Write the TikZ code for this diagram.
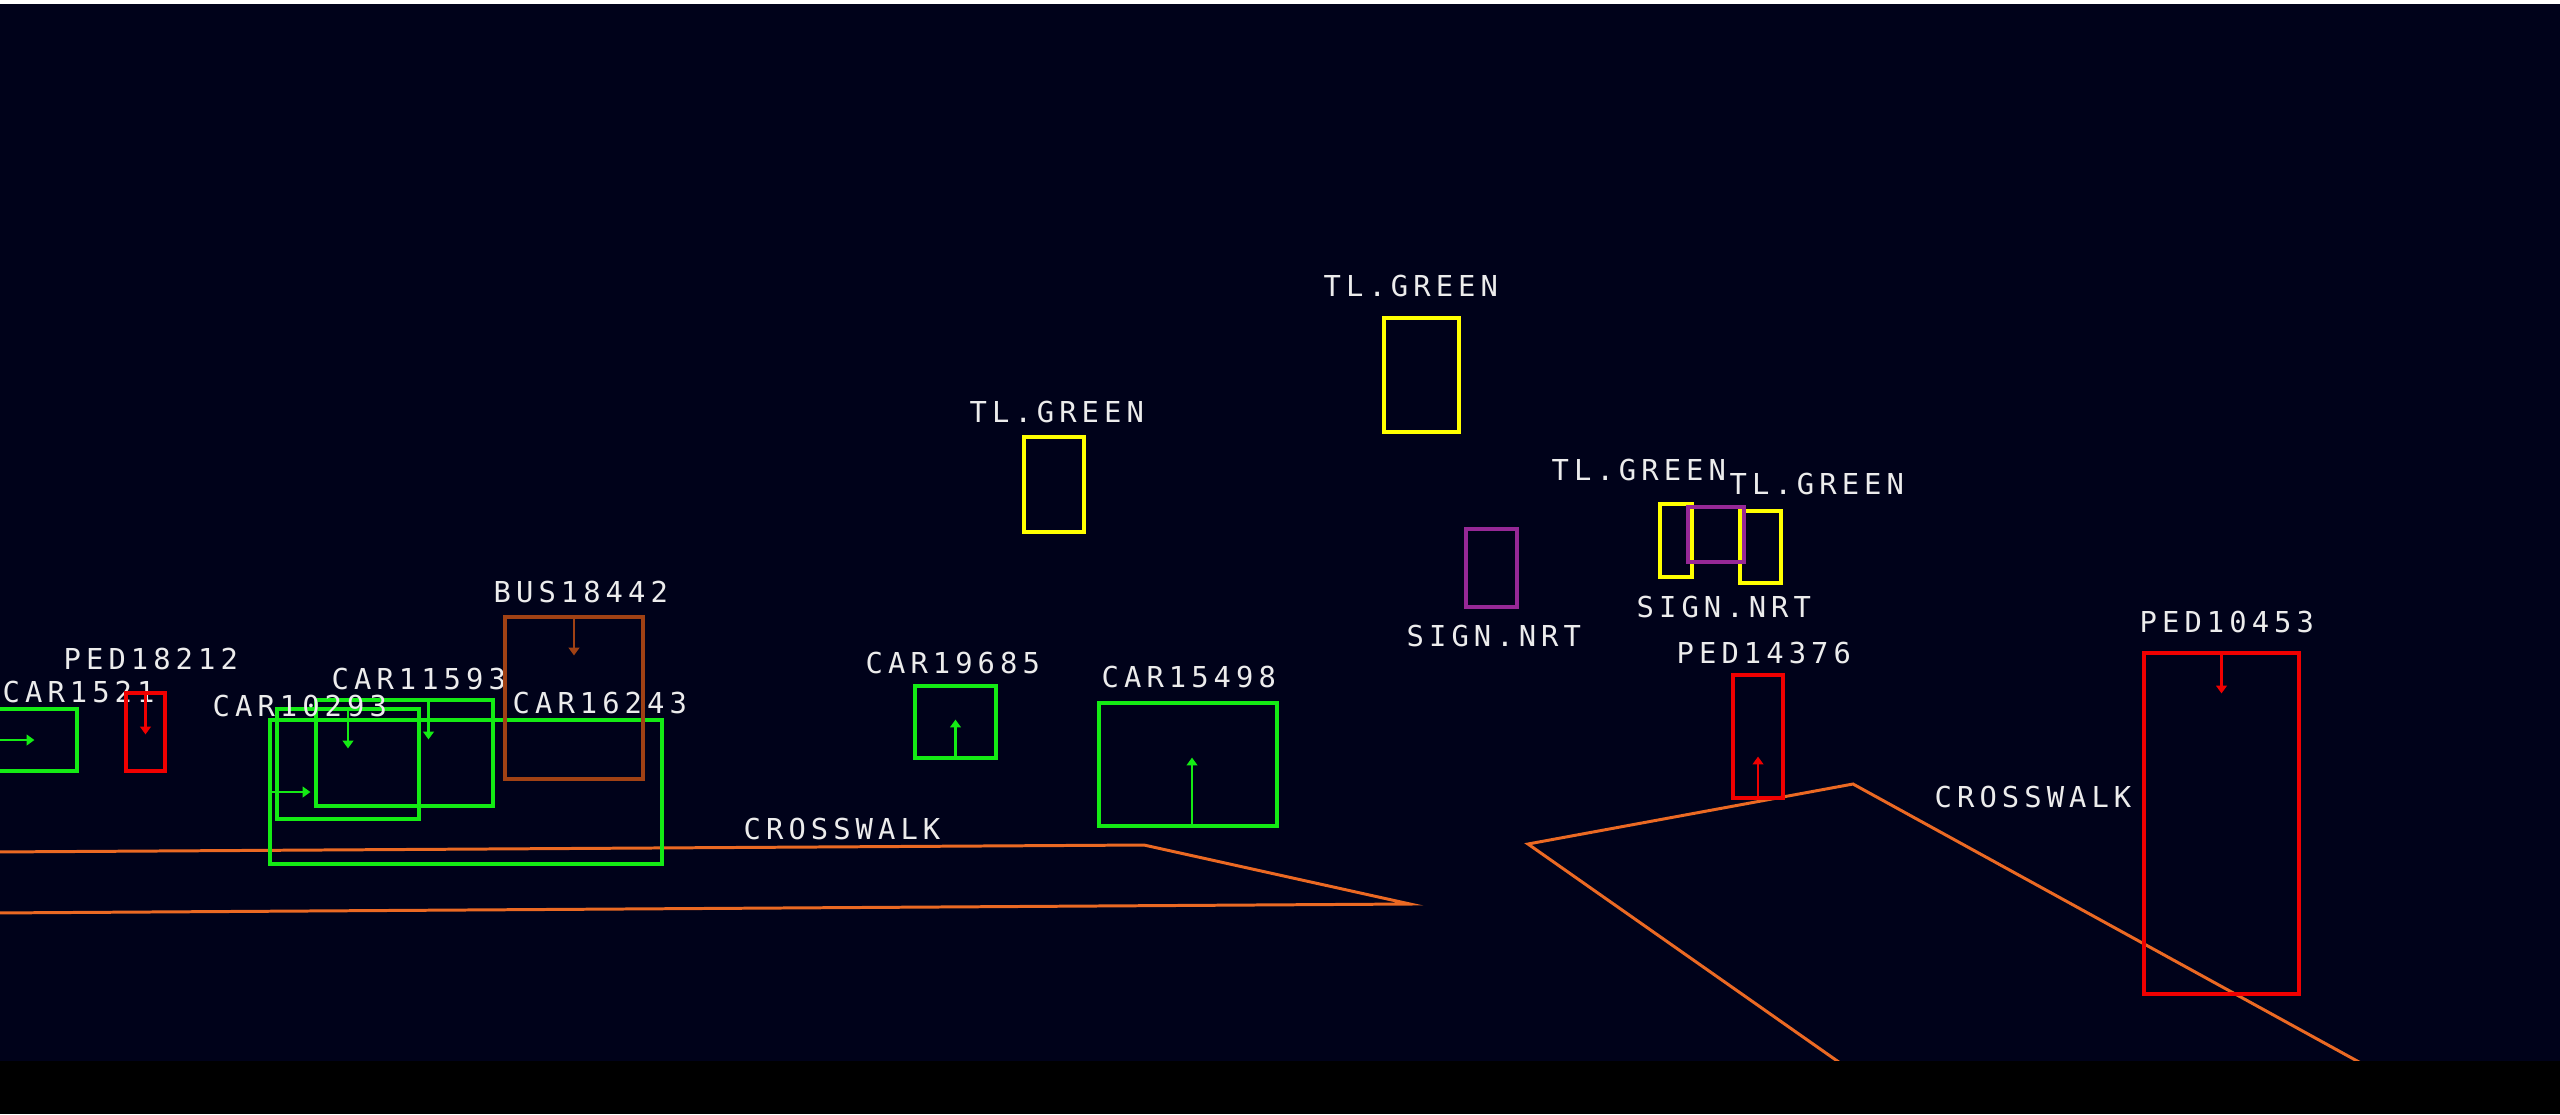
\documentclass[tikz,border=0pt]{standalone}
\usepackage{fontspec}
\usetikzlibrary{arrows.meta, fit}
\newfontfamily\lblfont[LetterSpace=17.5]{DejaVu Sans Mono}
\definecolor{night}{RGB}{0,2,26}
\definecolor{lbl}{RGB}{236,236,236}
\definecolor{carg}{RGB}{20,235,20}
\definecolor{pedr}{RGB}{240,0,0}
\definecolor{tly}{RGB}{255,255,0}
\definecolor{signp}{RGB}{150,40,150}
\definecolor{busb}{RGB}{160,65,20}
\definecolor{walk}{RGB}{235,105,35}

\begin{document}
\begin{tikzpicture}[
    x=0.01cm, y=-0.01cm,
    >={Triangle[length=2.2pt,width=3pt]},
    lb/.style={font=\lblfont\fontsize{8.2}{9}\selectfont, text=lbl, inner sep=0pt, anchor=base west},
    bx/.style={draw=#1, line width=0.9pt, inner sep=0pt},
    mv/.style={->, draw=#1, line width=0.6pt},
    cw/.style={draw=walk, line width=0.85pt, line join=miter},
]
    \useasboundingbox (0,0) rectangle (2560,1114);
    \fill[night] (0,0) rectangle (2560,1114);
    \fill[white] (0,0) rectangle (2560,4);
    \clip (0,0) rectangle (2560,1114);

    % crosswalks
    \draw[cw] (-10,852) -- (1144,845) -- (1410,904) -- (-10,913);
    \draw[cw] (1910,1112) -- (1528,844) -- (1853,784) -- (2450,1112);
    \node[lb] (walkl) at (743,839) {CROSSWALK};
    \node[lb] (walkr) at (1934,807) {CROSSWALK};

    % cars
    \node[bx=carg, fit={(-5,709) (77,771)}] (car1521) {};
    \node[bx=carg, fit={(277,709) (419,819)}] (car10293) {};
    \node[bx=carg, fit={(316,700) (493,806)}] (car11593) {};
    \node[bx=carg, fit={(270,720) (662,864)}] (car16243) {};
    \node[bx=carg, fit={(915,686) (996,758)}] (car19685) {};
    \node[bx=carg, fit={(1099,703) (1277,826)}] (car15498) {};
    \draw[mv=carg] (car1521.west) -- ++(41,0);
    \draw[mv=carg] (car10293.north) -- ++(0,41);
    \draw[mv=carg] (car11593.north) ++(24,0) -- ++(0,41);
    \draw[mv=carg] (car16243.west) -- ++(42,0);
    \draw[mv=carg] (car19685.south) -- ++(0,-40);
    \draw[mv=carg] (car15498.south) ++(4,0) -- ++(0,-70);
    \node[lb] at (2,702) {CAR1521};
    \node[lb] at (212,716) {CAR10293};
    \node[lb] at (331,689) {CAR11593};
    \node[lb] at (512,713) {CAR16243};
    \node[lb] at (865,673) {CAR19685};
    \node[lb] at (1101,687) {CAR15498};

    % bus
    \node[bx=busb, fit={(505,617) (643,779)}] (bus18442) {};
    \draw[mv=busb] (bus18442.north) -- ++(0,40);
    \node[lb] at (493,602) {BUS18442};

    % pedestrians
    \node[bx=pedr, fit={(126,693) (165,771)}] (ped18212) {};
    \node[bx=pedr, fit={(1733,675) (1783,798)}] (ped14376) {};
    \node[bx=pedr, fit={(2144,653) (2299,994)}] (ped10453) {};
    \draw[mv=pedr] (ped18212.north) -- ++(0,43);
    \draw[mv=pedr] (ped14376.south) -- ++(0,-43);
    \draw[mv=pedr] (ped10453.north) -- ++(0,42);
    \node[lb] at (63,669) {PED18212};
    \node[lb] at (1676,663) {PED14376};
    \node[lb] at (2139,632) {PED10453};

    % traffic lights
    \node[bx=tly, fit={(1024,437) (1084,532)}] (tla) {};
    \node[bx=tly, fit={(1384,318) (1459,432)}] (tlb) {};
    \node[bx=tly, fit={(1660,504) (1692,577)}] (tlc) {};
    \node[bx=tly, fit={(1740,511) (1781,583)}] (tld) {};
    \node[lb] at (969,422) {TL.GREEN};
    \node[lb] at (1323,296) {TL.GREEN};
    \node[lb] at (1551,480) {TL.GREEN};
    \node[lb] at (1729,494) {TL.GREEN};

    % signs
    \node[bx=signp, fit={(1466,529) (1517,607)}] (signa) {};
    \node[bx=signp, fit={(1688,507) (1744,562)}] (signb) {};
    \node[lb] at (1406,646) {SIGN.NRT};
    \node[lb] at (1636,617) {SIGN.NRT};

    \fill[black] (0,1061) rectangle (2560,1114);
\end{tikzpicture}
\end{document}
